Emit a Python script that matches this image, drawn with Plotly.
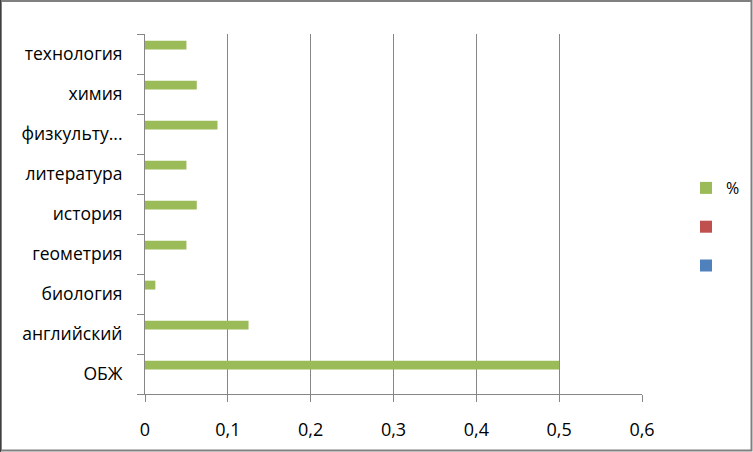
import plotly.graph_objects as go

categories = ["ОБЖ", "английский", "биология", "геометрия", "история",
              "литература", "физкульту...", "химия", "технология"]
pct_values = [0.5, 0.125, 0.0125, 0.05, 0.0625, 0.05, 0.0875, 0.0625, 0.05]
red_values = [0] * 9
blue_values = [0] * 9
x_ticks = [0, 0.1, 0.2, 0.3, 0.4, 0.5, 0.6]

W, H = 753, 452
L, R, T, B = 145, 111, 34, 58
pw, ph = W - L - R, H - T - B

def px(x):
    return (x - L) / pw

def py(y):
    return (H - B - y) / ph

font = "Open Sans, Noto Sans, DejaVu Sans, sans-serif"
grid = "#868686"

fig = go.Figure()
fig.add_trace(go.Bar(y=categories, x=blue_values, orientation="h", name=" ",
                     marker=dict(color="#4F81BD", line=dict(width=0)),
                     legendgroup="c", legendrank=3))
fig.add_trace(go.Bar(y=categories, x=red_values, orientation="h", name=" ",
                     marker=dict(color="#C0504D", line=dict(width=0)),
                     legendgroup="b", legendrank=2))
fig.add_trace(go.Bar(y=categories, x=pct_values, orientation="h", name="%",
                     marker=dict(color="#9BBB59", line=dict(width=0)),
                     legendgroup="a", legendrank=1))

fig.update_layout(
    width=W, height=H,
    margin=dict(l=L, r=R, t=T, b=B, autoexpand=False),
    paper_bgcolor="white", plot_bgcolor="white",
    separators=", ",
    barmode="group", bargap=0.333, bargroupgap=0,
    font=dict(family=font, size=15, color="black"),
    showlegend=True,
    legend=dict(x=px(686), y=py(171), xanchor="left", yanchor="top",
                traceorder="grouped", tracegroupgap=15,
                font=dict(size=16), bgcolor="rgba(0,0,0,0)"),
    xaxis=dict(range=[0, 0.6], tickvals=x_ticks, showgrid=True, gridcolor=grid,
               gridwidth=1, showline=True, linecolor=grid, linewidth=1,
               ticks="outside", ticklen=7, tickcolor=grid, ticklabelstandoff=12,
               zeroline=False, tickfont=dict(size=18), automargin=False),
    yaxis=dict(showgrid=False, showline=True, linecolor=grid, linewidth=1,
               ticks="outside", ticklen=7, tickcolor=grid, tickson="boundaries",
               ticklabelstandoff=18, tickfont=dict(size=17.5), automargin=False),
    shapes=[
        dict(type="rect", xref="paper", yref="paper",
             x0=px(1), x1=px(751.5), y0=py(1), y1=py(450.5),
             line=dict(color="#808080", width=2), layer="above"),
        dict(type="line", xref="paper", yref="paper",
             x0=px(0.5), x1=px(0.5), y0=py(0), y1=py(452),
             line=dict(color="#404040", width=1), layer="above"),
    ],
)

fig.write_html("out.html", config={"displayModeBar": False},
               post_script="document.body.style.margin='0';document.body.style.padding='0';")
